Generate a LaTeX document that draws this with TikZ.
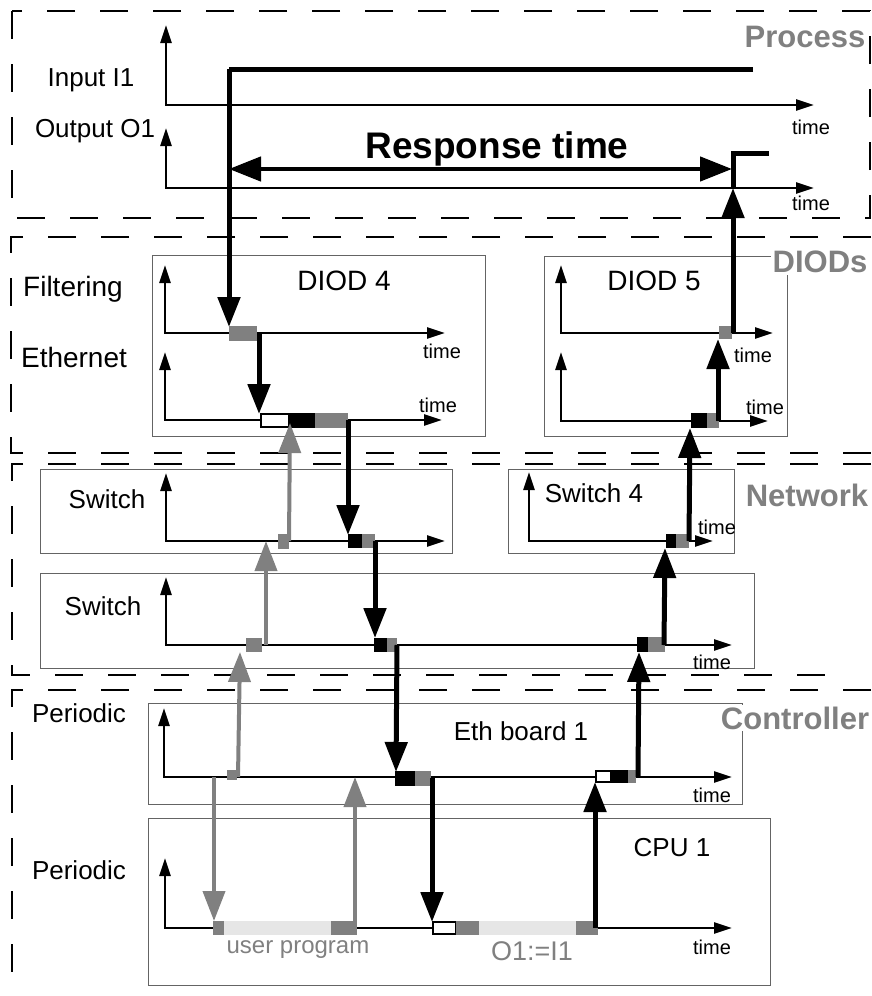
\documentclass[tikz,border=0pt]{standalone}
\usepackage{fontspec}
\setmainfont{Liberation Sans}
\usetikzlibrary{arrows.meta}
\definecolor{midgray}{RGB}{128,128,128}
\definecolor{lightgray}{RGB}{230,230,230}
\definecolor{boxgray}{RGB}{100,100,100}
\begin{document}
\begin{tikzpicture}[x=1pt,y=-1pt,
 region/.style={line width=2.5pt, dash pattern=on 28pt off 25pt},
 unitbox/.style={draw=boxgray, line width=1pt},
 axis/.style={line width=2.5pt, {Triangle[length=18pt,width=11pt]}-{Triangle[length=18pt,width=11pt]}},
 sig/.style={line width=5pt, -{Triangle[length=30pt,width=22pt]}},
 gsig/.style={sig, draw=midgray, line width=4pt},
 gblk/.style={fill=midgray},
 bblk/.style={fill=black},
 wblk/.style={draw=black, fill=white, line width=2pt},
 lblk/.style={fill=lightgray},
 lbl/.style={inner sep=0pt, font={\fontsize{26pt}{30pt}\selectfont}},
 dlbl/.style={inner sep=0pt, font={\fontsize{28pt}{32pt}\selectfont}},
 tm/.style={inner sep=0pt, font={\fontsize{20pt}{24pt}\selectfont}},
 reglbl/.style={inner sep=2pt, fill=white, text=midgray, font={\bfseries\fontsize{31pt}{34pt}\selectfont}},
 glbl/.style={inner sep=0pt, text=midgray, font={\fontsize{24pt}{28pt}\selectfont}}
]
\useasboundingbox (0,0) rectangle (871,996);

% ---------------- regions ----------------
\draw[region] (12,11) rectangle (870,218);
\draw[region] (871,237) -- (11,237) -- (11,453) -- (871,453);
\draw[region] (871,464) -- (12,464) -- (12,675) -- (845,675);
\draw[region] (871,690) -- (12,690) -- (12,996);

% ---------------- unit boxes ----------------
\draw[unitbox] (152,255) rectangle (485,436);
\draw[unitbox] (544,256) rectangle (787,436);
\draw[unitbox] (40,469) rectangle (452,553);
\draw[unitbox] (508,469) rectangle (734,553);
\draw[unitbox] (40,573) rectangle (754,668);
\draw[unitbox] (148,703) rectangle (742,804);
\draw[unitbox] (148,818) rectangle (770,985);

% ---------------- region labels ----------------
\node[reglbl] (lProcess) at (805,37) {Process};
\node[reglbl] (lDIODs) at (820,262) {DIODs};
\node[reglbl] (lNetwork) at (807,495) {Network};
\node[reglbl] (lController) at (795,718) {Controller};

% ---------------- text labels ----------------
\node[lbl] (tIn) at (91,80) {Input I1};
\node[lbl] (tOut) at (95,131) {Output O1};
\node[tm] (tm1) at (811,127) {time};
\node[tm] (tm2) at (811,203) {time};
\node[font={\bfseries\fontsize{37pt}{40pt}\selectfont}, inner sep=0pt] (tResp) at (497,149) {Response time};

\node[lbl, font={\fontsize{28pt}{30pt}\selectfont}] (tFilt) at (73,289) {Filtering};
\node[lbl, font={\fontsize{28pt}{30pt}\selectfont}] (tEth) at (74,357) {Ethernet};
\node[dlbl] (tD4) at (344,281) {DIOD 4};
\node[dlbl] (tD5) at (654,281) {DIOD 5};
\node[tm] (tm3) at (442,351) {time};
\node[tm] (tm4) at (438,405) {time};
\node[tm] (tm5) at (753,355) {time};
\node[tm] (tm6) at (765,407) {time};

\node[lbl] (tSw1) at (107,499) {Switch};
\node[lbl] (tSw2) at (103,606) {Switch};
\node[lbl] (tSw4) at (594,493) {Switch 4};
\node[tm] (tm7) at (717,527) {time};
\node[tm] (tm8) at (712,662) {time};

\node[lbl] (tPer1) at (79,713) {Periodic};
\node[lbl] (tPer2) at (79,870) {Periodic};
\node[lbl] (tEB) at (521,731) {Eth board 1};
\node[lbl] (tCPU) at (672,848) {CPU 1};
\node[tm] (tm9) at (712,795) {time};
\node[tm] (tm10) at (712,947) {time};
\node[glbl] (tUP) at (298,950) {user program};
\node[glbl, font={\fontsize{27pt}{30pt}\selectfont}] (tOI) at (532,951) {O1:=I1};

% ---------------- axes ----------------
\draw[axis] (166,25) -- (166,105) -- (814,105);
\draw[axis] (166,128) -- (166,188) -- (814,188);
\draw[axis] (165,265) -- (165,333) -- (445,333);
\draw[axis] (165,352) -- (165,420) -- (442,420);
\draw[axis] (561,265) -- (561,333) -- (773,333);
\draw[axis] (561,352) -- (561,421) -- (768,421);
\draw[axis] (166,473) -- (166,541) -- (445,541);
\draw[axis] (529,472) -- (529,541) -- (713,541);
\draw[axis] (166,577) -- (166,645) -- (732,645);
\draw[axis] (164,708) -- (164,777) -- (732,777);
\draw[axis] (165,858) -- (165,928) -- (732,928);

% ---------------- blocks ----------------
% DIOD 4
\fill[gblk] (229,326) rectangle (257,341);
\draw[wblk] (261,414) rectangle (289,427);
\fill[bblk] (289,413) rectangle (315,428);
\fill[gblk] (315,413) rectangle (348,428);
% DIOD 5
\fill[gblk] (719,326) rectangle (732,339);
\fill[bblk] (691,413) rectangle (707,428);
\fill[gblk] (707,413) rectangle (719,428);
% upper switch
\fill[gblk] (278,534) rectangle (289,549);
\fill[bblk] (348,534) rectangle (362,548);
\fill[gblk] (362,534) rectangle (375,548);
% switch 4
\fill[bblk] (666,534) rectangle (676,548);
\fill[gblk] (676,534) rectangle (689,548);
% lower switch
\fill[gblk] (246,638) rectangle (262,652);
\fill[bblk] (374,638) rectangle (387,652);
\fill[gblk] (387,638) rectangle (397,652);
\fill[bblk] (637,637) rectangle (648,652);
\fill[gblk] (648,637) rectangle (665,652);
% eth board
\fill[gblk] (227,770) rectangle (237,780);
\fill[bblk] (395,771) rectangle (415,786);
\fill[gblk] (415,771) rectangle (431,786);
\draw[wblk] (596,771) rectangle (611,782);
\fill[bblk] (611,770) rectangle (628,783);
\fill[gblk] (628,770) rectangle (636,783);
% CPU
\fill[gblk] (213,921) rectangle (224,935);
\fill[lblk] (224,921) rectangle (331,935);
\fill[gblk] (331,921) rectangle (357,935);
\draw[wblk] (433,922) rectangle (456,934);
\fill[gblk] (456,921) rectangle (479,935);
\fill[lblk] (479,921) rectangle (576,935);
\fill[gblk] (576,921) rectangle (598,935);

% ---------------- coordinates ----------------
\coordinate (iEnd) at (753,69);
\coordinate (iCorner) at (229,69);
\coordinate (d4f) at (229,327);
\coordinate (d4fOut) at (259,333);
\coordinate (d4e) at (259,414);
\coordinate (d4eOut) at (348,420);
\coordinate (sw1In) at (348,535);
\coordinate (sw1Out) at (375,541);
\coordinate (sw2In) at (375,638);
\coordinate (sw2Out) at (397,645);
\coordinate (ebIn) at (396,772);
\coordinate (ebOut) at (432,778);
\coordinate (cpuIn) at (432,922);
\coordinate (cpuOut) at (595,928);
\coordinate (ebIn2) at (595,782);
\coordinate (ebOut2) at (638,777);
\coordinate (sw2In2) at (639,652);
\coordinate (sw2Out2) at (664,645);
\coordinate (sw4In) at (665,548);
\coordinate (sw4Out) at (689,541);
\coordinate (d5eIn) at (690,428);
\coordinate (d5eOut) at (718,421);
\coordinate (d5fIn) at (718,339);
\coordinate (d5fOut) at (733,333);
\coordinate (oIn) at (733,188);
\coordinate (oCorner) at (733,153);
\coordinate (oEnd) at (769,153);
\coordinate (rL) at (229,169);
\coordinate (rR) at (732,169);
% gray (user program) path
\coordinate (gEbOut) at (214,777);
\coordinate (gCpuIn) at (214,921);
\coordinate (gCpuOut) at (355,928);
\coordinate (gEbIn) at (355,777);
\coordinate (gEb) at (238,777);
\coordinate (gSw2) at (240,652);
\coordinate (gSw2Out) at (266,645);
\coordinate (gSw1) at (266,541);
\coordinate (gSw1Out) at (289,541);
\coordinate (gD4) at (290,423);

% ---------------- signal connectors ----------------
\draw[line width=5pt] (iEnd) -- (iCorner);
\draw[sig] (iCorner) -- (d4f);
\draw[sig] (d4fOut) -- (d4e);
\draw[sig] (d4eOut) -- (sw1In);
\draw[sig] (sw1Out) -- (sw2In);
\draw[sig] (sw2Out) -- (ebIn);
\draw[sig] (ebOut) -- (cpuIn);
\draw[sig] (cpuOut) -- (ebIn2);
\draw[sig] (ebOut2) -- (sw2In2);
\draw[sig] (sw2Out2) -- (sw4In);
\draw[sig] (sw4Out) -- (d5eIn);
\draw[sig] (d5eOut) -- (d5fIn);
\draw[sig] (d5fOut) -- (oIn);
\draw[line width=5pt] (oIn) -- (oCorner) -- (oEnd);
\draw[line width=4.5pt, {Triangle[length=32pt,width=24pt]}-{Triangle[length=32pt,width=24pt]}] (rL) -- (rR);

\draw[gsig] (gEbOut) -- (gCpuIn);
\draw[gsig] (gCpuOut) -- (gEbIn);
\draw[gsig] (gEb) -- (gSw2);
\draw[gsig] (gSw2Out) -- (gSw1);
\draw[gsig] (gSw1Out) -- (gD4);
\end{tikzpicture}
\end{document}
